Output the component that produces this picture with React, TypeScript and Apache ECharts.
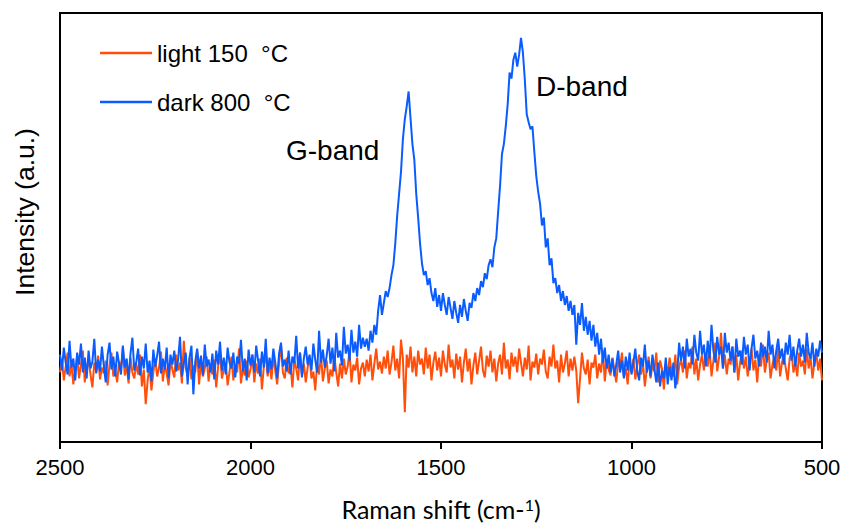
import React, { useEffect, useRef } from "react";
import * as echarts from "echarts";

// Raman shift sampling (cm-1): first point and spacing of the spectrum
const SHIFT_START = 2500;
const SHIFT_STEP = 5;

const X_TICKS = [500, 1000, 1500, 2000, 2500];

const SERIES_NAMES = ["light 150  °C", "dark 800  °C"];

// intensity (a.u.), 2500 -> 500 cm-1 every 5 cm-1
const LIGHT_150 = [
  70, 84, 62, 76, 90, 66, 79, 58, 73, 86,
  64, 78, 92, 60, 74, 83, 68, 55, 80, 71,
  87, 63, 75, 69, 82, 57, 78, 90, 66, 72,
  60, 81, 74, 95, 67, 77, 59, 85, 70, 64,
  79, 68, 88, 56, 73, 38, 62, 76, 52, 70,
  84, 66, 75, 91, 61, 78, 69, 57, 82, 73,
  65, 88, 72, 80, 59, 102, 74, 67, 85, 63,
  77, 70, 92, 58, 81, 66, 74, 86, 61, 79,
  68, 83, 55, 76, 90, 64, 73, 80, 57, 71,
  86, 62, 78, 70, 94, 59, 75, 67, 82, 65,
  73, 88, 60, 79, 69, 84, 53, 76, 91, 66,
  78, 63, 86, 72, 58, 80, 98, 70, 64, 85,
  69, 77, 55, 83, 74, 62, 90, 67, 79, 60,
  75, 86, 64, 71, 52, 80, 68, 88, 61, 74,
  82, 59, 73, 66, 87, 70, 56, 79, 64, 84,
  68, 76, 91, 60, 78, 72, 85, 58, 74, 80,
  66, 83, 71, 88, 62, 79, 94, 73, 81, 69,
  86, 74, 92, 68, 80, 97, 72, 84, 64, 103,
  84, 30, 88, 75, 96, 70, 86, 66, 92, 78,
  84, 68, 95, 74, 88, 62, 80, 91, 72, 85,
  66, 92, 78, 70, 98, 75, 83, 64, 89, 73,
  86, 60, 80, 94, 71, 84, 58, 77, 90, 68,
  82, 96, 72, 65, 87, 76, 92, 70, 84, 61,
  79, 88, 68, 100, 74, 83, 63, 90, 76, 86,
  70, 94, 80, 66, 85, 73, 97, 62, 81, 75,
  89, 68, 84, 78, 93, 71, 64, 86, 76, 98,
  74, 82, 60, 88, 70, 79, 92, 66, 84, 72,
  86, 72, 39, 64, 90, 74, 68, 83, 58, 80,
  75, 88, 64, 79, 70, 92, 61, 83, 73, 67,
  85, 72, 60, 81, 76, 90, 66, 74, 58, 82,
  70, 84, 63, 77, 88, 68, 80, 56, 73, 86,
  64, 78, 71, 90, 60, 82, 74, 53, 79, 68,
  85, 72, 66, 88, 58, 76, 83, 70, 92, 64,
  80, 74, 96, 68, 84, 62, 78, 88, 72, 90,
  76, 94, 66, 82, 100, 71, 86, 110, 74, 88,
  68, 84, 78, 96, 70, 88, 62, 80, 92, 74,
  86, 66, 79, 94, 72, 83, 60, 88, 76, 98,
  70, 82, 90, 64, 78, 86, 72, 95, 66, 80,
  88, 74, 62, 84, 92, 70, 80, 66, 90, 76,
  82, 68, 94, 74, 86, 64, 80, 90, 72, 84,
  62,
];

const DARK_800 = [
  88, 72, 95, 80, 68, 102, 75, 84, 62, 90,
  78, 99, 70, 85, 64, 92, 74, 81, 104, 69,
  83, 71, 96, 77, 60, 88, 100, 73, 86, 66,
  91, 79, 68, 97, 75, 84, 63, 89, 105, 72,
  80, 94, 67, 86, 74, 99, 70, 82, 61, 93,
  76, 87, 101, 69, 84, 73, 95, 64, 88, 78,
  92, 71, 83, 106, 66, 79, 90, 58, 85, 97,
  48, 81, 94, 74, 87, 67, 98, 76, 83, 70,
  89, 63, 92, 78, 101, 72, 85, 68, 95, 80,
  74, 90, 65, 86, 79, 103, 71, 84, 62, 93,
  77, 88, 70, 97, 82, 66, 91, 75, 104, 69,
  85, 73, 94, 80, 64, 89, 100, 76, 83, 71,
  92, 68, 86, 79, 107, 74, 90, 65, 84, 96,
  78, 88, 72, 99, 83, 70, 112, 80, 93, 75,
  87, 104, 79, 95, 71, 110, 85, 92, 77, 116,
  89, 98, 82, 113, 90, 101, 86, 118, 94, 105,
  96, 104, 92, 112, 100, 118, 108, 132, 148, 128,
  140, 152, 146, 155, 168, 178, 200, 228, 250, 272,
  305, 325, 338, 353, 326, 300, 284, 250, 226, 200,
  180, 168, 172, 158, 165, 150, 142, 155, 136, 148,
  132, 150, 138, 128, 146, 135, 124, 142, 130, 120,
  138, 126, 144, 132, 122, 140, 135, 150, 142, 155,
  148, 162, 156, 170, 164, 178, 184, 176, 196, 205,
  232, 258, 290, 300, 318, 340, 372, 366, 385, 392,
  378, 390, 407, 392, 365, 330, 322, 315, 318, 292,
  268, 252, 240, 218, 226, 196, 205, 178, 185, 160,
  165, 150, 158, 142, 152, 138, 147, 132, 142, 128,
  138, 98, 130, 118, 140, 112, 126, 108, 122, 102,
  118, 96, 110, 88, 104, 80, 95, 74, 88, 70,
  84, 66, 78, 92, 70, 82, 64, 86, 72, 90,
  68, 80, 94, 72, 62, 85, 76, 98, 70, 82,
  66, 88, 74, 60, 80, 56, 72, 64, 85, 58,
  76, 62, 80, 54, 70, 100, 82, 96, 74, 104,
  86, 94, 78, 108, 90, 82, 112, 88, 98, 76,
  102, 84, 118, 92, 80, 106, 88, 96, 74, 110,
  90, 100, 82, 96, 70, 104, 86, 92, 78, 106,
  88, 98, 72, 94, 108, 84, 92, 76, 100, 86,
  96, 80, 112, 88, 98, 74, 92, 104, 84, 94,
  78, 100, 88, 108, 82, 96, 76, 92, 104, 86,
  98, 80, 110, 90, 84, 100, 76, 94, 86, 102,
  90,
];

const BAND_LABELS = ["G-band", "D-band"];
const Y_TITLE = "Intensity (a.u.)";

const toPairs = (vals: number[]) =>
  vals.map((v, i) => [SHIFT_START - i * SHIFT_STEP, v]);

export default function App() {
  const ref = useRef<HTMLDivElement>(null);

  useEffect(() => {
    if (!ref.current) return;
    const chart = echarts.init(ref.current, undefined, { renderer: "svg" });
    const arial = "'Liberation Sans', Arial, sans-serif";
    const calibriLike = "Lato, 'Open Sans', sans-serif";
    chart.setOption({
      animation: false,
      backgroundColor: "#ffffff",
      grid: {
        left: 60,
        right: 24,
        top: 13,
        bottom: 81,
        show: true,
        borderColor: "#000",
        borderWidth: 2,
        containLabel: false,
      },
      legend: {
        orient: "vertical",
        left: 100,
        top: 40,
        padding: 0,
        icon: "rect",
        itemWidth: 52,
        itemHeight: 2.5,
        itemGap: 23,
        textStyle: {
          fontFamily: arial,
          fontSize: 24,
          color: "#000",
          lineHeight: 26,
        },
        data: SERIES_NAMES,
      },
      xAxis: {
        type: "value",
        min: X_TICKS[0],
        max: X_TICKS[X_TICKS.length - 1],
        interval: 500,
        inverse: true,
        axisLine: { show: true, onZero: false, lineStyle: { color: "#000", width: 2 } },
        axisTick: { show: true, inside: false, length: 7, lineStyle: { color: "#000", width: 2 } },
        splitLine: { show: false },
        axisLabel: {
          margin: 14,
          fontFamily: arial,
          fontSize: 22,
          color: "#000",
          formatter: (v: number) => String(v),
        },
        name: "{a|Raman shift (cm-}{s|1}{a|)}",
        nameLocation: "middle",
        nameGap: 54,
        nameTextStyle: {
          rich: {
            a: { fontFamily: calibriLike, fontSize: 25, color: "#000" },
            s: {
              fontFamily: calibriLike,
              fontSize: 16,
              color: "#000",
              verticalAlign: "top",
              padding: [0, 0, 9, 0],
            },
          },
        },
      },
      yAxis: {
        type: "value",
        min: 0,
        max: 432,
        axisLine: { show: true, lineStyle: { color: "#000", width: 2 } },
        axisTick: { show: false },
        axisLabel: { show: false },
        splitLine: { show: false },
      },
      graphic: [
        {
          type: "text",
          x: 25,
          y: 212,
          rotation: Math.PI / 2,
          style: {
            text: Y_TITLE,
            font: `26.5px ${arial}`,
            fill: "#000",
            align: "center",
            verticalAlign: "middle",
          },
        },
        {
          type: "text",
          left: 286,
          top: 136,
          style: { text: BAND_LABELS[0], font: `28px ${arial}`, fill: "#000" },
        },
        {
          type: "text",
          left: 536,
          top: 72,
          style: { text: BAND_LABELS[1], font: `28px ${arial}`, fill: "#000" },
        },
      ],
      series: [
        {
          name: SERIES_NAMES[0],
          type: "line",
          data: toPairs(LIGHT_150),
          showSymbol: false,
          symbol: "none",
          lineStyle: { color: "#FF4F0A", width: 2 },
          itemStyle: { color: "#FF4F0A" },
        },
        {
          name: SERIES_NAMES[1],
          type: "line",
          data: toPairs(DARK_800),
          showSymbol: false,
          symbol: "none",
          lineStyle: { color: "#0A5CFF", width: 2 },
          itemStyle: { color: "#0A5CFF" },
        },
      ],
    });
    return () => chart.dispose();
  }, []);

  return (
    <div
      ref={ref}
      style={{ position: "absolute", left: 0, top: 0, width: 846, height: 526 }}
    />
  );
}
